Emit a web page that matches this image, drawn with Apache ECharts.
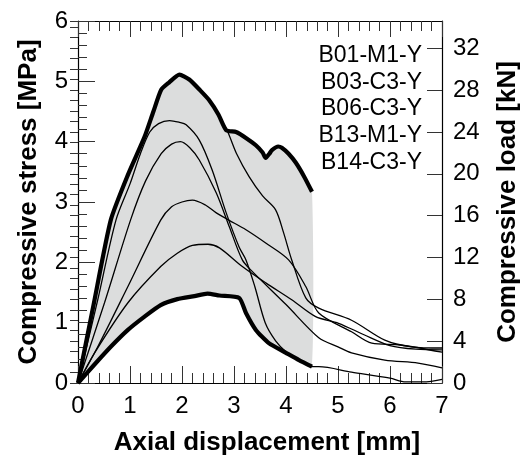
<!DOCTYPE html>
<html><head><meta charset="utf-8">
<script src="https://cdn.jsdelivr.net/npm/echarts@6/dist/echarts.min.js"></script>
<style>html,body{margin:0;padding:0;background:#fff}#c{width:529px;height:461px}</style>
</head><body><div id="c"></div>
<script>
// ---- data (displacement mm, stress MPa) ----
var seriesNames = ['B01-M1-Y','B03-C3-Y','B06-C3-Y','B13-M1-Y','B14-C3-Y'];
var xTicks = [0,1,2,3,4,5,6,7];
var stressTicks = [0,1,2,3,4,5,6];
var loadTicks = [0,4,8,12,16,20,24,28,32];
var loadMax = 34.6;

var upperEnv = [[0,0],[0.3,1.3],[0.63,2.7],[0.96,3.45],[1.28,4.08],[1.45,4.5],[1.6,4.86],[1.75,4.98],[1.95,5.11],[2.14,5.03],[2.35,4.85],[2.52,4.69],[2.7,4.45],[2.85,4.19],[3.04,4.16],[3.25,4.05],[3.42,3.94],[3.55,3.82],[3.61,3.73],[3.68,3.8],[3.73,3.86],[3.85,3.92],[3.92,3.9],[4.05,3.8],[4.19,3.65],[4.35,3.42],[4.5,3.17]];
var lowerEnv = [[0,0],[0.3,0.29],[0.63,0.6],[0.96,0.88],[1.28,1.1],[1.59,1.29],[1.91,1.39],[2.24,1.44],[2.49,1.48],[2.72,1.45],[3.1,1.41],[3.23,1.16],[3.42,0.88],[3.67,0.66],[4.0,0.5],[4.25,0.38],[4.5,0.27]];

var curveB01 = [[0,0],[0.3,1.3],[0.63,2.7],[0.96,3.45],[1.28,4.08],[1.45,4.5],[1.6,4.86],[1.75,4.98],[1.95,5.1],[2.14,5.02],[2.35,4.84],[2.52,4.68],[2.7,4.44],[2.88,4.16],[3.05,3.8],[3.29,3.42],[3.55,3.1],[3.8,2.87],[3.95,2.5],[4.11,2.04],[4.38,1.41],[4.63,1.24],[5.26,1.04],[5.9,0.71],[6.41,0.6],[7.0,0.58]];
var curveB03 = [[0,0],[0.38,1.38],[0.73,2.7],[1.0,3.3],[1.2,3.8],[1.38,4.16],[1.55,4.3],[1.76,4.35],[1.95,4.32],[2.08,4.28],[2.33,4.03],[2.58,3.53],[2.85,2.82],[3.1,2.25],[3.23,2.04],[3.4,1.6],[3.6,1.0],[3.8,0.7],[4.0,0.52],[4.25,0.38],[4.5,0.27],[4.63,0.27],[5.26,0.18],[6.0,0.08],[6.3,0.02],[6.7,0.02],[7.0,0.06]];
var curveB06 = [[0,0],[0.51,1.33],[1.01,2.7],[1.3,3.35],[1.6,3.8],[1.8,3.96],[1.97,4.0],[2.15,3.9],[2.33,3.7],[2.66,3.15],[2.91,2.59],[3.16,2.04],[3.35,1.85],[4.0,1.3],[4.63,0.75],[5.0,0.6],[5.26,0.5],[5.9,0.38],[6.54,0.33],[7.0,0.25]];
var curveB13 = [[0,0],[0.38,0.6],[0.96,1.6],[1.59,2.7],[1.8,2.92],[2.0,3.0],[2.2,3.03],[2.45,2.95],[2.66,2.82],[2.9,2.7],[3.23,2.54],[3.61,2.32],[4.05,2.04],[4.38,1.6],[4.63,1.16],[5.26,0.85],[5.65,0.66],[6.2,0.63],[7.0,0.51]];
var curveB14 = [[0,0],[0.32,0.5],[0.96,1.33],[1.59,1.93],[1.91,2.15],[2.2,2.28],[2.5,2.3],[2.72,2.24],[3.16,1.93],[3.61,1.66],[4.11,1.38],[4.57,1.1],[5.01,0.99],[5.5,0.8],[6.0,0.62],[6.5,0.56],[7.0,0.55]];
var curves = [curveB01, curveB03, curveB06, curveB13, curveB14];

var FONT = 'Liberation Sans, Arial, sans-serif';
var chart = echarts.init(document.getElementById('c'), null, {renderer:'canvas'});

var series = [{
  type:'custom', xAxisIndex:0, yAxisIndex:0, silent:true, z:1,
  data:[[0,0]],
  renderItem:function(params, api){
    var pts = upperEnv.map(function(p){return api.coord(p);})
      .concat(lowerEnv.slice().reverse().map(function(p){return api.coord(p);}));
    return {type:'polygon', shape:{points:pts, smooth:0.2}, style:{fill:'#dcdddd', stroke:null}};
  }
}];
curves.forEach(function(c,i){
  series.push({type:'line', name:seriesNames[i], data:c, xAxisIndex:0, yAxisIndex:0,
    showSymbol:false, symbol:'none', smooth:0.3, z:3,
    lineStyle:{color:'#000', width:1.3}});
});
[upperEnv, lowerEnv].forEach(function(c){
  series.push({type:'line', data:c, xAxisIndex:0, yAxisIndex:0, showSymbol:false, symbol:'none', z:4,
    smooth:0.2, lineStyle:{color:'#000', width:4.2, join:'round'}});
});

var legendGraphics = seriesNames.map(function(n,i){
  return {type:'text', right:107, top:44 + i*26.7, z:10,
    style:{text:n, font:'23px ' + FONT, fill:'#000', textAlign:'right'}};
});

var option = {
  animation:false,
  backgroundColor:'#fff',
  grid:{left:78, right:85, top:21, bottom:78, show:false},
  xAxis:[{
    type:'value', min:xTicks[0], max:xTicks[xTicks.length-1], interval:1, position:'bottom',
    name:'Axial displacement [mm]', nameLocation:'middle', nameGap:47,
    nameTextStyle:{fontFamily:FONT, fontSize:26, fontWeight:'bold', color:'#000', padding:[0,0,0,14]},
    axisLine:{show:true, onZero:false, lineStyle:{color:'#000', width:1.2}},
    axisTick:{show:true, inside:true, length:17, lineStyle:{color:'#333', width:1}},
    minorTick:{show:true, splitNumber:5, length:10, lineStyle:{color:'#333', width:1}},
    axisLabel:{margin:11, fontFamily:FONT, fontSize:24, color:'#000'},
    splitLine:{show:false}
  },{
    type:'value', min:0, max:7, interval:1, position:'top',
    axisLine:{show:true, onZero:false, lineStyle:{color:'#000', width:1.2}},
    axisTick:{show:true, inside:true, length:16, lineStyle:{color:'#333', width:1}},
    minorTick:{show:true, splitNumber:5, length:10, lineStyle:{color:'#333', width:1}},
    axisLabel:{show:false}, splitLine:{show:false}
  }],
  yAxis:[{
    type:'value', min:stressTicks[0], max:stressTicks[stressTicks.length-1], interval:1, position:'left',
    name:'Compressive stress [MPa]', nameLocation:'middle', nameGap:36, nameRotate:90,
    nameTextStyle:{fontFamily:FONT, fontSize:26, fontWeight:'bold', color:'#000'},
    axisLine:{show:true, onZero:false, lineStyle:{color:'#000', width:1.2}},
    axisTick:{show:true, inside:true, length:17, lineStyle:{color:'#333', width:1}},
    minorTick:{show:true, splitNumber:5, length:9, lineStyle:{color:'#333', width:1}},
    axisLabel:{margin:10, fontFamily:FONT, fontSize:24, color:'#000'},
    splitLine:{show:false}
  },{
    type:'value', min:0, max:loadMax, interval:4, position:'right',
    name:'Compressive load [kN]', nameLocation:'middle', nameGap:53, nameRotate:90,
    nameTextStyle:{fontFamily:FONT, fontSize:26, fontWeight:'bold', color:'#000'},
    axisLine:{show:true, onZero:false, lineStyle:{color:'#000', width:1.2}},
    axisTick:{show:true, inside:true, length:15, lineStyle:{color:'#333', width:1}},
    axisLabel:{margin:11, fontFamily:FONT, fontSize:24, color:'#000', showMaxLabel:false,
      formatter:function(v){ return loadTicks.indexOf(v) >= 0 ? String(v) : ''; }},
    splitLine:{show:false}
  },{
    type:'value', min:0, max:loadMax, interval:1, position:'right',
    axisLine:{show:false},
    axisTick:{show:true, inside:true, length:8, lineStyle:{color:'#333', width:1}},
    axisLabel:{show:false}, splitLine:{show:false}
  }],
  graphic:legendGraphics,
  series:series
};
chart.setOption(option);
</script></body></html>
